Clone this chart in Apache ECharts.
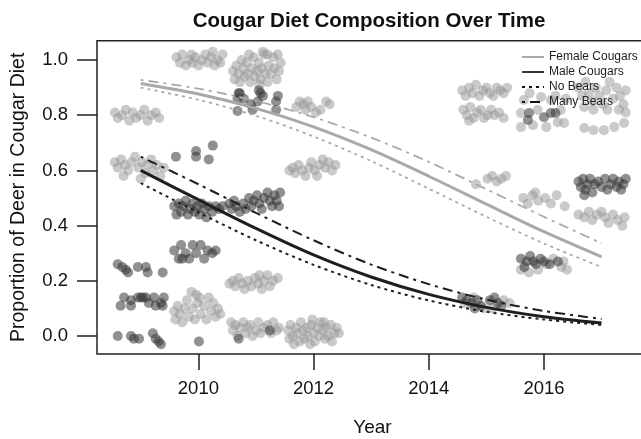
<!DOCTYPE html>
<html>
<head>
<meta charset="utf-8">
<script src="https://cdn.jsdelivr.net/npm/echarts@6/dist/echarts.min.js"></script>
<style>html,body{margin:0;padding:0;background:#fff;}#c{width:641px;height:439px;}</style>
</head>
<body>
<div id="c"></div>
<script>
// ---- data ----
const yearTicks = [2010, 2012, 2014, 2016];
const propTicks = [0, 0.2, 0.4, 0.6, 0.8, 1.0];
const curveYears = [2009, 2010, 2011, 2012, 2013, 2014, 2015, 2016, 2017];
const femaleFit      = [0.915, 0.877, 0.825, 0.758, 0.675, 0.579, 0.478, 0.378, 0.287];
const femaleNoBears  = [0.900, 0.856, 0.798, 0.723, 0.634, 0.534, 0.432, 0.335, 0.250];
const femaleManyBears= [0.928, 0.896, 0.852, 0.793, 0.719, 0.631, 0.532, 0.432, 0.336];
const maleFit        = [0.600, 0.494, 0.390, 0.294, 0.214, 0.151, 0.104, 0.070, 0.047];
const maleNoBears    = [0.554, 0.448, 0.347, 0.258, 0.185, 0.129, 0.088, 0.060, 0.040];
const maleManyBears  = [0.650, 0.550, 0.446, 0.347, 0.259, 0.188, 0.132, 0.091, 0.062];

const femalePoints = [
  // 2010 ~1.0
  [2009.62,1.01],[2009.68,0.99],[2009.72,1.02],[2009.78,0.98],[2009.84,1.00],[2009.9,0.99],[2009.95,1.01],[2010.0,0.98],[2010.06,1.00],[2010.12,1.02],[2010.16,0.99],[2010.22,1.01],[2010.28,0.98],[2010.33,1.00],[2010.38,0.99],[2010.42,1.02],[2009.88,1.02],[2010.25,1.03],
  // 2011 ~0.96
  [2010.6,0.96],[2010.63,0.93],[2010.66,0.98],[2010.7,0.95],[2010.72,0.92],[2010.75,1.0],[2010.78,0.97],[2010.8,0.94],[2010.84,0.99],[2010.86,0.95],[2010.9,0.92],[2010.93,0.97],[2010.96,1.01],[2010.98,0.94],[2011.02,0.96],[2011.05,0.99],[2011.08,0.93],[2011.1,0.97],[2011.14,1.02],[2011.16,0.95],[2011.2,0.92],[2011.22,0.98],[2011.26,0.95],[2011.3,1.01],[2011.32,0.97],[2011.36,0.93],[2011.4,0.96],[2011.43,0.99],[2011.2,1.02],[2011.06,0.91],[2010.88,1.02],[2011.12,1.03],[2011.38,1.02],
  // 2009 ~0.8
  [2008.55,0.81],[2008.6,0.79],[2008.68,0.80],[2008.74,0.82],[2008.8,0.78],[2008.86,0.81],[2008.92,0.79],[2009.0,0.80],[2009.06,0.82],[2009.12,0.78],[2009.18,0.80],[2009.26,0.81],[2009.32,0.79],
  // 2009 ~0.62
  [2008.55,0.63],[2008.6,0.61],[2008.66,0.64],[2008.72,0.62],[2008.78,0.60],[2008.84,0.63],[2008.9,0.65],[2008.96,0.61],[2009.02,0.63],[2009.08,0.59],[2009.12,0.62],[2009.18,0.64],[2009.22,0.60],[2009.28,0.62],[2009.34,0.58],[2009.4,0.61],[2008.7,0.58],[2009.0,0.57],
  // 2010 ~0.1
  [2009.58,0.09],[2009.6,0.06],[2009.64,0.11],[2009.68,0.08],[2009.72,0.05],[2009.76,0.1],[2009.8,0.13],[2009.84,0.07],[2009.88,0.16],[2009.9,0.1],[2009.94,0.06],[2009.98,0.12],[2010.02,0.14],[2010.04,0.08],[2010.1,0.11],[2010.14,0.06],[2010.18,0.14],[2010.22,0.09],[2010.26,0.12],[2010.3,0.07],[2010.34,0.1],[2010.38,0.08],[2009.96,0.15],
  // 2011 ~0.2
  [2010.54,0.19],[2010.6,0.2],[2010.64,0.18],[2010.7,0.21],[2010.76,0.19],[2010.8,0.17],[2010.86,0.2],[2010.92,0.18],[2010.98,0.21],[2011.04,0.19],[2011.1,0.17],[2011.14,0.2],[2011.2,0.22],[2011.24,0.18],[2011.3,0.2],[2011.38,0.21],[2011.06,0.22],
  // 2011 ~0.03
  [2010.57,0.05],[2010.6,0.02],[2010.64,0.04],[2010.68,0.0],[2010.72,0.03],[2010.78,0.05],[2010.82,0.01],[2010.86,0.03],[2010.9,0.04],[2010.94,0.0],[2011.0,0.02],[2011.04,0.05],[2011.08,0.01],[2011.14,0.03],[2011.2,0.04],[2011.26,0.01],[2011.3,0.05],[2011.36,0.02],[2011.4,0.03],
  // 2012 ~0.01
  [2011.56,0.02],[2011.58,-0.01],[2011.6,0.04],[2011.64,0.0],[2011.66,-0.03],[2011.7,0.03],[2011.72,0.01],[2011.76,-0.02],[2011.78,0.05],[2011.82,0.02],[2011.84,-0.01],[2011.88,0.03],[2011.9,0.0],[2011.94,-0.03],[2011.96,0.04],[2012.0,0.01],[2012.02,-0.02],[2012.06,0.03],[2012.1,0.0],[2012.12,0.05],[2012.16,0.02],[2012.2,-0.01],[2012.22,0.03],[2012.26,0.0],[2012.3,0.04],[2012.32,-0.02],[2012.36,0.01],[2012.4,0.03],[2012.44,0.01],[2011.98,0.06],[2012.18,0.05],
  // 2012 ~0.83
  [2011.7,0.83],[2011.76,0.85],[2011.82,0.84],[2011.86,0.82],[2011.9,0.85],[2011.96,0.83],[2012.04,0.81],[2012.12,0.82],[2012.22,0.85],[2012.28,0.84],
  // 2012 ~0.61
  [2011.58,0.6],[2011.64,0.61],[2011.68,0.59],[2011.74,0.62],[2011.8,0.6],[2011.86,0.58],[2011.92,0.61],[2011.96,0.63],[2012.02,0.6],[2012.06,0.58],[2012.1,0.62],[2012.16,0.64],[2012.2,0.61],[2012.26,0.63],[2012.32,0.6],[2012.38,0.62],
  // 2015 ~0.88 / ~0.8
  [2014.58,0.89],[2014.64,0.87],[2014.7,0.9],[2014.76,0.88],[2014.82,0.91],[2014.88,0.87],[2014.94,0.89],[2015.0,0.9],[2015.06,0.88],[2015.12,0.87],[2015.18,0.9],[2015.24,0.89],[2015.3,0.88],[2015.36,0.9],
  [2014.6,0.82],[2014.66,0.8],[2014.72,0.83],[2014.78,0.79],[2014.84,0.81],[2014.9,0.82],[2014.96,0.79],[2015.02,0.8],[2015.08,0.82],[2015.14,0.8],[2015.22,0.81],[2015.3,0.79],[2014.7,0.78],
  // 2015 ~0.57
  [2014.82,0.55],[2015.02,0.57],[2015.1,0.58],[2015.18,0.56],[2015.26,0.57],[2015.34,0.58],
  // 2016 upper
  [2015.65,0.855],[2015.95,0.866],[2016.12,0.855],[2015.6,0.808],[2015.89,0.819],[2016.29,0.819],[2015.6,0.757],[2015.81,0.764],[2016.04,0.757],[2016.24,0.775],[2016.35,0.772],[2015.75,0.88],[2016.2,0.87],[2016.38,0.86],
  // 2017 upper
  [2016.6,0.9],[2016.66,0.87],[2016.72,0.92],[2016.78,0.88],[2016.84,0.85],[2016.9,0.9],[2016.96,0.87],[2017.02,0.84],[2017.08,0.89],[2017.14,0.92],[2017.2,0.86],[2017.26,0.9],[2017.32,0.87],[2017.38,0.84],[2017.42,0.89],[2016.7,0.83],[2016.86,0.82],[2017.1,0.82],[2017.3,0.82],[2017.42,0.81],
  [2016.7,0.754],[2016.86,0.746],[2017.04,0.746],[2017.22,0.757],[2017.39,0.772],
  // 2016 ~0.5
  [2015.64,0.5],[2015.72,0.48],[2015.8,0.51],[2015.9,0.49],[2016.02,0.5],[2016.12,0.48],[2016.22,0.51],[2016.36,0.47],[2015.85,0.52],
  // 2017 ~0.43
  [2016.6,0.44],[2016.7,0.43],[2016.78,0.45],[2016.84,0.42],[2016.92,0.44],[2017.0,0.45],[2017.06,0.43],[2017.12,0.41],[2017.2,0.44],[2017.28,0.42],[2017.36,0.4],[2017.4,0.43],
  // 2016 ~0.25
  [2015.6,0.24],[2015.74,0.23],[2015.9,0.24],[2016.04,0.26],[2016.16,0.28],[2016.3,0.25],[2016.4,0.24],[2016.34,0.27],
  // 2015 ~0.12
  [2014.62,0.12],[2014.78,0.14],[2014.96,0.1],[2015.1,0.1],[2015.3,0.13],[2015.4,0.12]
];

const malePoints = [
  // 2011 ~0.87
  [2010.70,0.88],[2010.68,0.86],[2010.79,0.86],[2011.05,0.89],[2011.12,0.87],[2011.03,0.85],[2011.38,0.87],[2010.72,0.88],[2011.08,0.88],
  [2010.68,0.815],[2010.91,0.84],[2010.94,0.82],[2011.35,0.85],[2011.35,0.82],
  // 2010 ~0.66
  [2009.61,0.65],[2009.96,0.67],[2009.96,0.65],[2010.25,0.69],[2010.18,0.64],
  // 2010 ~0.47
  [2009.58,0.47],[2009.62,0.44],[2009.66,0.48],[2009.7,0.45],[2009.74,0.47],[2009.78,0.49],[2009.82,0.44],[2009.86,0.46],[2009.9,0.48],[2009.94,0.45],[2009.98,0.47],[2010.02,0.44],[2010.06,0.48],[2010.1,0.46],[2010.14,0.43],[2010.18,0.47],[2010.24,0.45],[2010.3,0.47],[2010.36,0.46],[2010.42,0.47],
  // 2011 ~0.49
  [2010.54,0.48],[2010.58,0.46],[2010.62,0.49],[2010.66,0.47],[2010.72,0.45],[2010.78,0.48],[2010.82,0.46],[2010.88,0.5],[2010.92,0.47],[2010.96,0.49],[2011.02,0.51],[2011.06,0.48],[2011.1,0.46],[2011.14,0.5],[2011.2,0.52],[2011.24,0.49],[2011.28,0.47],[2011.32,0.51],[2011.36,0.49],[2011.4,0.47],[2011.42,0.52],
  // 2010 ~0.3
  [2009.58,0.31],[2009.66,0.28],[2009.7,0.33],[2009.78,0.30],[2009.84,0.28],[2009.9,0.33],[2009.96,0.30],[2010.04,0.33],[2010.1,0.28],[2010.16,0.31],[2010.24,0.30],[2010.3,0.31],[2009.72,0.28],
  // 2009 ~0.25
  [2008.60,0.26],[2008.74,0.24],[2008.78,0.23],[2008.95,0.25],[2009.09,0.25],[2009.12,0.23],[2009.38,0.23],[2008.68,0.25],
  // 2009 ~0.13
  [2008.65,0.11],[2008.71,0.14],[2008.83,0.13],[2008.83,0.11],[2008.95,0.14],[2009.04,0.14],[2009.09,0.14],[2009.14,0.12],[2009.23,0.14],[2009.26,0.11],[2009.35,0.12],[2009.40,0.14],[2009.38,0.11],[2009.0,0.14],
  // 2009 ~0.0
  [2008.60,0.0],[2008.83,0.0],[2008.88,-0.01],[2008.97,-0.01],[2009.21,0.01],[2009.26,-0.01],[2009.31,-0.02],[2009.35,-0.03],[2010.01,-0.02],
  // 2011 ~0.02
  [2010.7,-0.01],[2011.24,0.02],
  // 2016 ~0.8
  [2015.74,0.808],[2015.72,0.783],[2016.0,0.793],[2016.12,0.808],[2016.2,0.808],
  // 2017 ~0.55
  [2016.6,0.56],[2016.64,0.54],[2016.68,0.57],[2016.72,0.53],[2016.76,0.55],[2016.8,0.57],[2016.84,0.52],[2016.88,0.55],[2016.94,0.56],[2017.0,0.54],[2017.06,0.57],[2017.1,0.53],[2017.16,0.55],[2017.2,0.57],[2017.26,0.54],[2017.3,0.56],[2017.34,0.53],[2017.38,0.55],[2017.42,0.57],[2016.7,0.51],
  // 2016 ~0.27
  [2015.6,0.28],[2015.7,0.27],[2015.76,0.29],[2015.82,0.27],[2015.86,0.26],[2015.94,0.28],[2016.0,0.27],[2016.1,0.26],[2016.24,0.27],[2015.66,0.25],
  // 2015 ~0.12
  [2014.58,0.14],[2014.66,0.13],[2014.74,0.12],[2014.8,0.1],[2014.9,0.11],[2015.06,0.13],[2015.14,0.14],[2015.2,0.12],[2015.26,0.11],[2014.84,0.13]
];

// ---- chart ----
const FEM = '#a9a9a9', MALE = '#1e1e1e';
const DOT = [3, 4], DASHDOT = [3, 5, 10, 5];
const FONT = 'Liberation Sans, Arial, sans-serif';
const pair = (ys) => curveYears.map((x, i) => [x, ys[i]]);
const lineSeries = (name, ys, color, width, type) => ({
  name, type: 'line', data: pair(ys), smooth: 0.3, symbol: 'none', silent: true, z: 5,
  lineStyle: { color, width, type }
});
const legendSeries = (name, color, type) => ({
  name, type: 'line', data: [], symbol: 'none',
  lineStyle: { color, width: 2, type }, itemStyle: { color }
});

const chart = echarts.init(document.getElementById('c'), null, { renderer: 'canvas' });
chart.setOption({
  animation: false,
  backgroundColor: '#fff',
  textStyle: { fontFamily: FONT },
  title: {
    text: 'Cougar Diet Composition Over Time',
    left: 364, top: 6, textAlign: 'center',
    textStyle: { fontSize: 20.5, fontWeight: 'bold', color: '#111', fontFamily: FONT }
  },
  legend: {
    left: 516, top: 46, orient: 'vertical', itemWidth: 22, itemHeight: 10, itemGap: 3,
    itemStyle: { opacity: 0 },
    textStyle: { fontSize: 12, color: '#222', lineHeight: 11 },
    data: ['Female Cougars', 'Male Cougars', 'No Bears', 'Many Bears']
  },
  grid: { left: 97, top: 40.7, width: 551, height: 313.3, show: true, borderColor: '#222', borderWidth: 1.5,
          containLabel: false, outerBoundsMode: 'none' },
  xAxis: {
    type: 'value', min: 2008.24, max: 2017.806,
    name: 'Year', nameLocation: 'middle', nameGap: 64,
    nameTextStyle: { fontSize: 19, color: '#111' },
    axisLine: { show: false, onZero: false },
    axisTick: { show: true, length: 16, customValues: yearTicks, lineStyle: { color: '#222', width: 1.5 } },
    axisLabel: { customValues: yearTicks, fontSize: 18.5, color: '#111', margin: 25, formatter: v => String(v) },
    splitLine: { show: false }
  },
  yAxis: {
    type: 'value', min: -0.065, max: 1.07,
    name: 'Proportion of Deer in Cougar Diet', nameLocation: 'middle', nameGap: 68, nameRotate: 90,
    nameTextStyle: { fontSize: 19.5, color: '#111' },
    axisLine: { show: false, onZero: false },
    axisTick: { show: true, length: 20, customValues: propTicks, lineStyle: { color: '#222', width: 1.5 } },
    axisLabel: { customValues: propTicks, fontSize: 18.5, color: '#111', margin: 29, formatter: v => v.toFixed(1) },
    splitLine: { show: false }
  },
  series: [
    { name: 'femalePts', type: 'scatter', data: femalePoints, symbolSize: 10, z: 2, silent: true,
      itemStyle: { color: 'rgb(150,150,150)', opacity: 0.5 } },
    { name: 'malePts', type: 'scatter', data: malePoints, symbolSize: 10, z: 3, silent: true,
      itemStyle: { color: 'rgb(55,55,55)', opacity: 0.55 } },
    lineSeries('f-fit', femaleFit, FEM, 3, 'solid'),
    lineSeries('f-no', femaleNoBears, FEM, 1.8, DOT),
    lineSeries('f-many', femaleManyBears, FEM, 1.8, DASHDOT),
    lineSeries('m-fit', maleFit, MALE, 3, 'solid'),
    lineSeries('m-no', maleNoBears, MALE, 2, DOT),
    lineSeries('m-many', maleManyBears, MALE, 2, DASHDOT),
    legendSeries('Female Cougars', FEM, 'solid'),
    legendSeries('Male Cougars', '#333', 'solid'),
    legendSeries('No Bears', '#111', DOT),
    legendSeries('Many Bears', '#111', DASHDOT)
  ]
});
</script>
</body>
</html>
